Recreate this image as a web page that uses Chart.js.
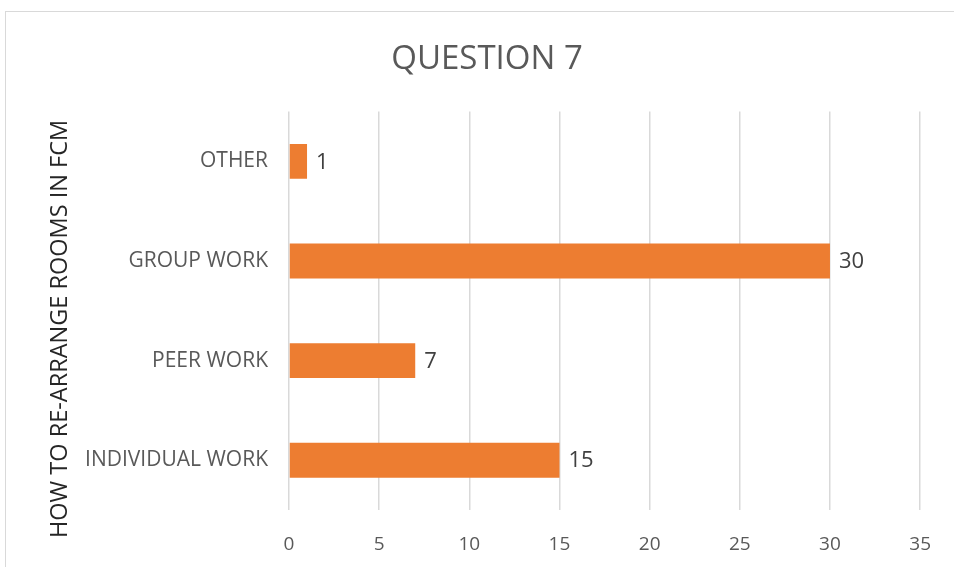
<!DOCTYPE html>
<html>
<head>
<meta charset="utf-8">
<title>Question 7</title>
<script src="https://cdn.jsdelivr.net/npm/chart.js"></script>
<style>
    html, body { margin: 0; padding: 0; background: #fff; overflow: hidden; }
    .frame { position: absolute; left: 5px; top: 11px; width: 1200px; height: 800px; border: 1px solid #d9d9d9; }
    .wrap { position: absolute; left: 0; top: 0; width: 954px; height: 567px; }
</style>
</head>
<body>
<div class="frame"></div>
<div class="wrap"><canvas id="q7"></canvas></div>
<script>
// answers to question 7, listed top to bottom
const categories = ['OTHER', 'GROUP WORK', 'PEER WORK', 'INDIVIDUAL WORK'];
const counts = [1, 30, 7, 15];
const xTicks = [0, 5, 10, 15, 20, 25, 30, 35];

const FONT = "'Open Sans', sans-serif";

// value printed just past the end of each bar
const barValues = {
    id: 'barValues',
    afterDatasetsDraw(chart) {
        const ctx = chart.ctx;
        const meta = chart.getDatasetMeta(0);
        ctx.save();
        ctx.font = '22px ' + FONT;
        ctx.fillStyle = '#404040';
        ctx.textAlign = 'left';
        ctx.textBaseline = 'middle';
        meta.data.forEach((bar, i) => {
            ctx.fillText(String(chart.data.datasets[0].data[i]), bar.x + 9, bar.y + 1);
        });
        ctx.restore();
    }
};

// rotated axis title on the left
const axisTitle = {
    id: 'axisTitle',
    afterDraw(chart) {
        const ctx = chart.ctx;
        ctx.save();
        ctx.translate(60, 329);
        ctx.rotate(-Math.PI / 2);
        ctx.font = '23.5px ' + FONT;
        ctx.fillStyle = '#262626';
        ctx.textAlign = 'center';
        ctx.textBaseline = 'middle';
        ctx.fillText('HOW TO RE-ARRANGE ROOMS IN FCM', 0, 0);
        ctx.restore();
    }
};

new Chart(document.getElementById('q7'), {
    type: 'bar',
    data: {
        labels: categories,
        datasets: [{
            data: counts,
            backgroundColor: '#ED7D31',
            barPercentage: 0.35,
            categoryPercentage: 1
        }]
    },
    options: {
        indexAxis: 'y',
        responsive: true,
        maintainAspectRatio: false,
        animation: false,
        layout: { padding: { left: 51, right: 31, top: 0, bottom: 0 } },
        plugins: {
            legend: { display: false },
            tooltip: { enabled: false },
            title: {
                display: true,
                text: 'QUESTION 7',
                color: '#595959',
                font: { family: FONT, size: 33, weight: 'normal' },
                padding: { top: 40, bottom: 32 }
            }
        },
        scales: {
            x: {
                min: 0,
                max: 35,
                afterBuildTicks(scale) { scale.ticks = xTicks.map(v => ({ value: v })); },
                afterFit(scale) { scale.height = 57; },
                border: { display: false },
                grid: { color: '#d9d9d9', lineWidth: 1.5, drawTicks: false },
                ticks: {
                    color: '#595959',
                    padding: 23,
                    font: { family: FONT, size: 19 }
                }
            },
            y: {
                afterFit(scale) { scale.width = 238; },
                border: { display: false },
                grid: { display: false, drawTicks: false },
                ticks: {
                    color: '#595959',
                    padding: 21,
                    font: { family: FONT, size: 21 }
                }
            }
        }
    },
    plugins: [barValues, axisTitle]
});
</script>
</body>
</html>
